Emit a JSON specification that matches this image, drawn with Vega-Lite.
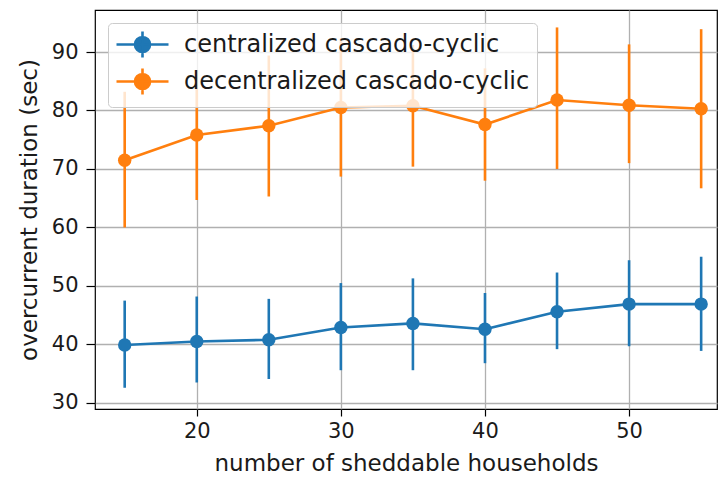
{
  "$schema": "https://vega.github.io/schema/vega-lite/v6.json",
  "width": 622,
  "height": 399,
  "autosize": "none",
  "padding": {"left": 95, "top": 10, "right": 1, "bottom": 73},
  "background": "white",
  "config": {
    "font": "DejaVu Sans",
    "view": {"stroke": "black", "strokeWidth": 1.2},
    "axis": {
      "gridColor": "#b0b0b0", "gridWidth": 1.3, "gridOpacity": 1,
      "domain": false, "tickColor": "black", "tickWidth": 1.2,
      "labelFontSize": 21, "labelColor": "#1a1a1a",
      "titleFontSize": 23, "titleFontWeight": "normal", "titleColor": "#1a1a1a"
    }
  },
  "data": {
    "values": [
      {"n": 15, "series": "centralized cascado-cyclic", "mean": 39.9, "lo": 32.6, "hi": 47.5},
      {"n": 20, "series": "centralized cascado-cyclic", "mean": 40.5, "lo": 33.5, "hi": 48.2},
      {"n": 25, "series": "centralized cascado-cyclic", "mean": 40.8, "lo": 34.1, "hi": 47.8},
      {"n": 30, "series": "centralized cascado-cyclic", "mean": 42.9, "lo": 35.6, "hi": 50.5},
      {"n": 35, "series": "centralized cascado-cyclic", "mean": 43.6, "lo": 35.6, "hi": 51.3},
      {"n": 40, "series": "centralized cascado-cyclic", "mean": 42.6, "lo": 36.8, "hi": 48.8},
      {"n": 45, "series": "centralized cascado-cyclic", "mean": 45.6, "lo": 39.2, "hi": 52.3},
      {"n": 50, "series": "centralized cascado-cyclic", "mean": 46.9, "lo": 39.7, "hi": 54.4},
      {"n": 55, "series": "centralized cascado-cyclic", "mean": 46.9, "lo": 38.9, "hi": 55.0},
      {"n": 15, "series": "decentralized cascado-cyclic", "mean": 71.5, "lo": 60.0, "hi": 83.2},
      {"n": 20, "series": "decentralized cascado-cyclic", "mean": 75.8, "lo": 64.7, "hi": 86.9},
      {"n": 25, "series": "decentralized cascado-cyclic", "mean": 77.4, "lo": 65.3, "hi": 89.4},
      {"n": 30, "series": "decentralized cascado-cyclic", "mean": 80.5, "lo": 68.7, "hi": 92.3},
      {"n": 35, "series": "decentralized cascado-cyclic", "mean": 80.8, "lo": 70.4, "hi": 91.2},
      {"n": 40, "series": "decentralized cascado-cyclic", "mean": 77.6, "lo": 68.0, "hi": 87.2},
      {"n": 45, "series": "decentralized cascado-cyclic", "mean": 81.8, "lo": 70.0, "hi": 94.2},
      {"n": 50, "series": "decentralized cascado-cyclic", "mean": 80.9, "lo": 71.0, "hi": 91.3},
      {"n": 55, "series": "decentralized cascado-cyclic", "mean": 80.3, "lo": 66.7, "hi": 93.9}
    ]
  },
  "encoding": {
    "x": {
      "field": "n", "type": "quantitative",
      "scale": {"domain": [12.94, 56.1], "nice": false, "zero": false},
      "axis": {"values": [20, 30, 40, 50], "title": "number of sheddable households", "tickSize": 7, "labelPadding": 4, "titlePadding": 11}
    },
    "color": {
      "field": "series", "type": "nominal",
      "scale": {"domain": ["centralized cascado-cyclic", "decentralized cascado-cyclic"], "range": ["#1f77b4", "#ff7f0e"]},
      "legend": {
        "title": null, "orient": "top-left", "offset": 13,
        "labelFontSize": 24, "labelColor": "#1a1a1a", "labelOffset": 40, "labelLimit": 600,
        "symbolType": "M-1,0H3M1,-1V1M0.42,0A0.58,0.58 0 1,0 1.58,0A0.58,0.58 0 1,0 0.42,0Z",
        "symbolSize": 676, "symbolStrokeWidth": 2.6, "symbolOpacity": 1,
        "rowPadding": 0,
        "fillColor": "rgba(255,255,255,0.8)", "strokeColor": "#cccccc",
        "padding": 7, "cornerRadius": 4
      }
    }
  },
  "layer": [
    {
      "mark": {"type": "rule", "strokeWidth": 2.6},
      "encoding": {
        "y": {"field": "lo", "type": "quantitative"},
        "y2": {"field": "hi"}
      }
    },
    {
      "mark": {"type": "line", "strokeWidth": 2.6},
      "encoding": {
        "y": {
          "field": "mean", "type": "quantitative",
          "scale": {"domain": [28.97, 97.18], "nice": false, "zero": false},
          "axis": {"values": [30, 40, 50, 60, 70, 80, 90], "title": "overcurrent duration (sec)", "tickSize": 9, "labelPadding": 8, "titlePadding": 10}
        }
      }
    },
    {
      "mark": {"type": "point", "filled": true, "opacity": 1, "size": 180},
      "encoding": {
        "y": {"field": "mean", "type": "quantitative"}
      }
    }
  ]
}
